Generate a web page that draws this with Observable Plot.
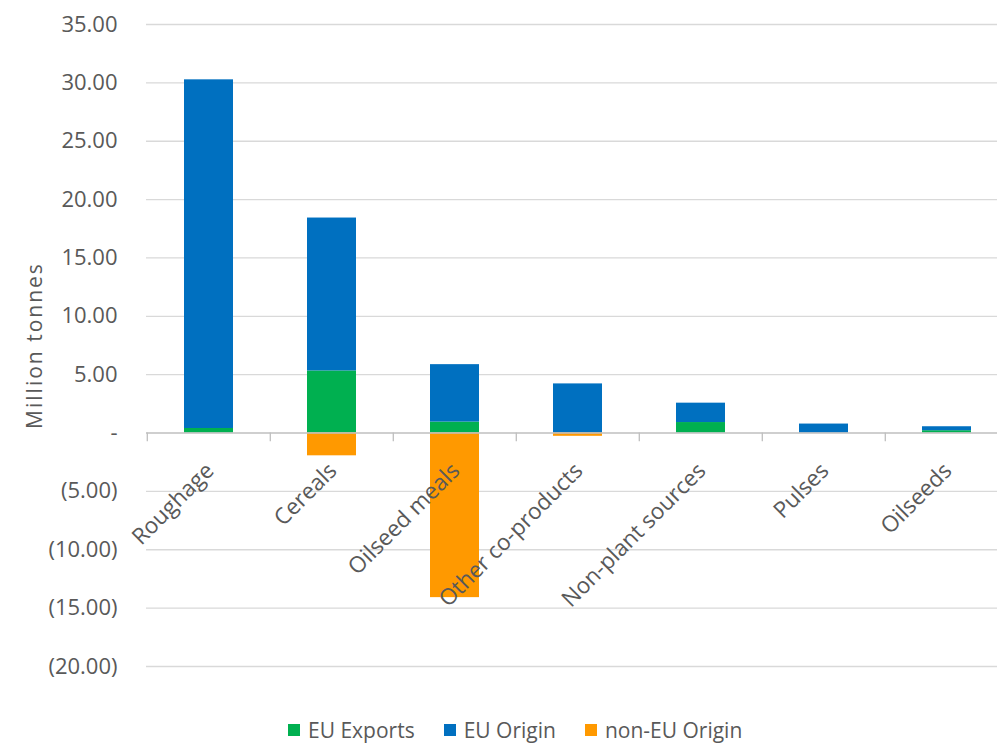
<!DOCTYPE html>
<html><head><meta charset="utf-8">
<script src="https://cdn.jsdelivr.net/npm/d3@7"></script>
<script src="https://cdn.jsdelivr.net/npm/@observablehq/plot@0.6"></script>
<style>
body{margin:0;background:#fff;font-family:"Open Sans",sans-serif;}
#wrap{position:relative;width:997px;height:744px;overflow:hidden;}
#legend{position:absolute;left:288px;top:720px;display:flex;align-items:center;font-size:21px;line-height:20px;color:#595959;white-space:nowrap;}
.item{display:flex;align-items:center;margin-right:29px;}
.sw{width:12px;height:12px;margin-right:8px;}
</style></head><body><div id="wrap"><div id="chart"></div><div id="legend"></div></div>
<script>
const categories = ["Roughage","Cereals","Oilseed meals","Other co-products","Non-plant sources","Pulses","Oilseeds"];
const euExports = [0.39, 5.32, 0.94, 0, 0.9, 0, 0.2];
const euOrigin = [29.87, 13.1, 4.92, 4.21, 1.66, 0.77, 0.34];
const nonEUOrigin = [0, -1.95, -14.1, -0.28, 0, 0, 0];
const series = ["EU Exports","EU Origin","non-EU Origin"];
const colors = ["#00B050","#0070C0","#FF9900"];
const yTicks = [-20,-15,-10,-5,0,5,10,15,20,25,30,35];

const rows = [];
categories.forEach((c,i)=>{
  rows.push({category:c, series:series[0], value:euExports[i]});
  rows.push({category:c, series:series[1], value:euOrigin[i]});
  rows.push({category:c, series:series[2], value:nonEUOrigin[i]});
});
const fmt = v => v===0 ? "-" : v<0 ? `(${Math.abs(v).toFixed(2)})` : v.toFixed(2);
const ff = "'Open Sans', sans-serif";
const grey = "#595959";

const chart = Plot.plot({
  width: 997, height: 700, marginTop: 24, marginBottom: 34, marginLeft: 146, marginRight: 0,
  style: {fontFamily: ff, fontSize: "22px", color: grey, background: "#fff"},
  x: {domain: categories, range: [146, 1010], paddingInner: 0.6, paddingOuter: 0.3, axis: null},
  y: {domain: [-20, 35], axis: null},
  color: {domain: series, range: colors},
  marks: [
    Plot.ruleY(yTicks.filter(d => d !== 0), {stroke: "#d9d9d9", strokeWidth: 1.3}),
    Plot.barY(rows, {x: "category", y: "value", fill: "series", order: series}),
    Plot.ruleY([0], {stroke: "#bfbfbf", strokeWidth: 1.5}),
    Plot.ruleX(categories, {x: d => d, y1: 0, y2: -0.75, dx: -61.7, stroke: "#bfbfbf", strokeWidth: 1.3}),
    Plot.axisY(yTicks, {tickSize: 0, tickPadding: 29, tickFormat: fmt, fontSize: 22, fill: grey, label: null}),
    Plot.text(categories, {x: d => d, y: 0, text: d => d, rotate: -45, textAnchor: "end", dx: 1, dy: 34, fontSize: 22.5, fill: grey}),
    Plot.text(["Million tonnes"], {frameAnchor: "left", rotate: -90, textAnchor: "middle", dx: -111, fontSize: 21, fill: grey})
  ]
});
document.getElementById("chart").appendChild(chart);
d3.select(chart).selectAll("text").filter(function() { return this.textContent === "Million tonnes"; })
  .attr("letter-spacing", "2px");

const legend = document.getElementById("legend");
series.forEach((s, i) => {
  const it = document.createElement("div"); it.className = "item";
  const sw = document.createElement("span"); sw.className = "sw"; sw.style.background = colors[i];
  const t = document.createElement("span"); t.textContent = s;
  it.appendChild(sw); it.appendChild(t); legend.appendChild(it);
});
</script></body></html>
